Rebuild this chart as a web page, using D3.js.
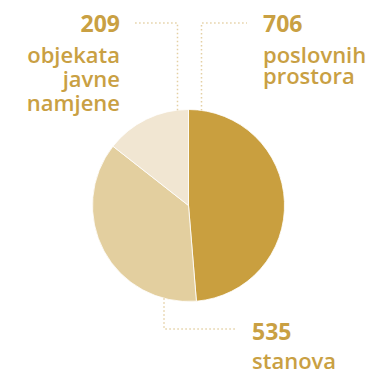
<!DOCTYPE html>
<html>
<head>
<meta charset="utf-8">
<script src="https://cdn.jsdelivr.net/npm/d3@7"></script>
<style>
  html, body { margin: 0; padding: 0; background: #fff; }
  svg { display: block; }
  text { font-family: "Open Sans", sans-serif; fill: #c9a043; }
</style>
</head>
<body>
<div id="chart"></div>
<script>
// data
var values = [706, 535, 209];
var numbers = ["706", "535", "209"];
var labels = [["poslovnih", "prostora"], ["stanova"], ["objekata", "javne", "namjene"]];
var colors = ["#c99f3f", "#e3cf9f", "#f1e6d2"];

var w = 370, h = 372;
var cx = 188.5, cy = 205.5, r = 96;

var svg = d3.select("#chart").append("svg")
	.attr("width", w)
	.attr("height", h);

var pie = d3.pie().sort(null).value(function (d) { return d; });
var arc = d3.arc().innerRadius(0).outerRadius(r);

var g = svg.append("g").attr("transform", "translate(" + cx + "," + cy + ")");

g.selectAll("path")
	.data(pie(values))
	.enter()
	.append("path")
	.attr("d", arc)
	.attr("fill", function (d, i) { return colors[i]; })
	.attr("stroke", "#fff")
	.attr("stroke-width", 0.8);

// leader lines: x offset from centre where line meets pie, and elbow point
var leaders = [
	{ dx: 13, top: true, ey: 23, ex: 247, tx: 263, anchor: "start", numY: 32, lineY: 62.5, lh: 21 },
	{ dx: -24.5, top: false, ey: 329, ex: 235, tx: 252, anchor: "start", numY: 339.5, lineY: 368.5, lh: 0 },
	{ dx: -11, top: true, ey: 23, ex: 135, tx: 120, anchor: "end", numY: 32, lineY: 62.5, lh: 24 }
];

leaders.forEach(function (l, i) {
	var x = cx + l.dx;
	var yEdge = cy + (l.top ? -1 : 1) * Math.sqrt(r * r - l.dx * l.dx);
	var pts = [[x, yEdge], [x, l.ey], [l.ex, l.ey]];
	svg.append("path")
		.attr("d", d3.line()(pts))
		.attr("fill", "none")
		.attr("stroke", "#e4d0a3")
		.attr("stroke-width", 1.5)
		.attr("stroke-dasharray", "1.5,2.5");

	svg.append("text")
		.attr("x", l.tx)
		.attr("y", l.numY)
		.attr("text-anchor", l.anchor)
		.attr("font-size", 23)
		.attr("font-weight", 700)
		.text(numbers[i]);

	var t = svg.append("text")
		.attr("x", l.tx)
		.attr("y", l.lineY)
		.attr("text-anchor", l.anchor)
		.attr("font-size", 22)
		.attr("font-weight", 600);
	labels[i].forEach(function (s, j) {
		t.append("tspan")
			.attr("x", l.tx)
			.attr("y", l.lineY + j * l.lh)
			.text(s);
	});
});
</script>
</body>
</html>
